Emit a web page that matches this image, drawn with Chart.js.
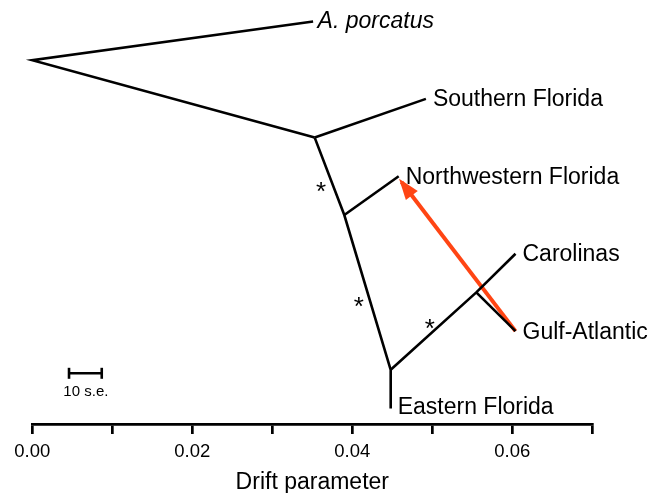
<!DOCTYPE html>
<html>
<head>
<meta charset="utf-8">
<script src="https://cdn.jsdelivr.net/npm/chart.js@4.4.0/dist/chart.umd.min.js"></script>
<style>
html, body { margin: 0; padding: 0; background: #fff; }
#wrap { width: 650px; height: 493px; }
</style>
</head>
<body>
<div id="wrap"><canvas id="treeChart"></canvas></div>
<script>
//tips of the tree: drift parameter (x) and vertical slot (y)
var tipNames = ['A. porcatus', 'Southern Florida', 'Northwestern Florida', 'Carolinas', 'Gulf-Atlantic', 'Eastern Florida']
var tipDrift = [0.0351, 0.0492, 0.0458, 0.0604, 0.0604, 0.0448]
var tipY = [6, 5, 4, 3, 2, 1]
//internal nodes
var nodeNames = ['root', 'n1', 'n2', 'n3', 'n4']
var nodeDrift = [0.0000, 0.0353, 0.0390, 0.0448, 0.0555]
var nodeY = [5.5, 4.5, 3.5, 1.5, 2.5]
//branches, each one a chain of nodes
var branches = [
    ['A. porcatus', 'root', 'n1'],
    ['n1', 'Southern Florida'],
    ['n1', 'n2', 'n3', 'Eastern Florida'],
    ['n2', 'Northwestern Florida'],
    ['n3', 'n4', 'Carolinas'],
    ['n4', 'Gulf-Atlantic']
]
//migration edge, from Gulf-Atlantic to Northwestern Florida
var migDrift = [0.0604, 0.04615]
var migY = [2, 3.926]
//support stars
var starDrift = [0.0361, 0.0408, 0.0497]
var starY = [3.888, 2.402, 2.121]
//scale bar
var barDrift = [0.00459, 0.00868]
var barY = [1.455, 1.455]
var barLabel = '10 s.e.'
//x axis
var tickValues = [0, 0.01, 0.02, 0.03, 0.04, 0.05, 0.06, 0.07]
var tickLabels = ['0.00', '', '0.02', '', '0.04', '', '0.06', '']

function pos(name) {
    var i = tipNames.indexOf(name)
    if (i >= 0) return { x: tipDrift[i], y: tipY[i] }
    i = nodeNames.indexOf(name)
    return { x: nodeDrift[i], y: nodeY[i] }
}

var datasets = branches.map(function (b) {
    return {
        data: b.map(pos),
        showLine: true,
        borderColor: '#000',
        borderWidth: 2.6,
        borderJoinStyle: 'miter',
        pointRadius: 0,
        clip: false
    }
})
datasets.push({
    data: barDrift.map(function (v, i) { return { x: v, y: barY[i] } }),
    showLine: true,
    borderColor: '#000',
    borderWidth: 2.6,
    pointStyle: 'line',
    pointRotation: 90,
    pointRadius: 5.5,
    pointBorderWidth: 2.6,
    pointBorderColor: '#000',
    clip: false
})
datasets.push({
    data: migDrift.map(function (v, i) { return { x: v, y: migY[i] } }),
    showLine: true,
    borderColor: '#ff4514',
    borderWidth: 4,
    pointRadius: 0,
    clip: false
})

var FONT = "'Liberation Sans', Arial, Helvetica, sans-serif"
Chart.defaults.font.family = FONT
Chart.defaults.color = '#000'

//labels, stars, arrow head
var treeText = {
    id: 'treeText',
    afterDatasetsDraw: function (chart) {
        var ctx = chart.ctx
        var xs = chart.scales.x, ys = chart.scales.y
        ctx.save()
        ctx.fillStyle = '#000'
        ctx.textAlign = 'left'
        ctx.textBaseline = 'alphabetic'
        for (var i = 0; i < tipNames.length; i++) {
            var px = xs.getPixelForValue(tipDrift[i])
            var py = ys.getPixelForValue(tipY[i])
            if (i == 0) {
                ctx.font = 'italic 23px ' + FONT
                ctx.fillText(tipNames[i], px + 4.5, py + 7)
            } else {
                ctx.font = '23px ' + FONT
                ctx.fillText(tipNames[i], px + 7, py + (i == 5 ? 5 : 7.5))
            }
        }
        ctx.textAlign = 'center'
        ctx.font = '26px ' + FONT
        for (var j = 0; j < starDrift.length; j++) {
            ctx.fillText('*', xs.getPixelForValue(starDrift[j]), ys.getPixelForValue(starY[j]) + 15)
        }
        ctx.font = '15px ' + FONT
        var bx = (xs.getPixelForValue(barDrift[0]) + xs.getPixelForValue(barDrift[1])) / 2
        ctx.fillText(barLabel, bx + 0.5, ys.getPixelForValue(barY[0]) + 22.4)
        //arrow head
        var x1 = xs.getPixelForValue(migDrift[0]), y1 = ys.getPixelForValue(migY[0])
        var x2 = xs.getPixelForValue(migDrift[1]), y2 = ys.getPixelForValue(migY[1])
        var len = Math.sqrt((x2 - x1) * (x2 - x1) + (y2 - y1) * (y2 - y1))
        var dx = (x2 - x1) / len, dy = (y2 - y1) / len
        var tx = x2 + dx * 4, ty = y2 + dy * 4
        var bxh = tx - dx * 21, byh = ty - dy * 21
        ctx.fillStyle = '#ff4514'
        ctx.beginPath()
        ctx.moveTo(tx, ty)
        ctx.lineTo(bxh - dy * 7.5, byh + dx * 7.5)
        ctx.lineTo(bxh + dy * 7.5, byh - dx * 7.5)
        ctx.closePath()
        ctx.fill()
        ctx.restore()
    }
}

var ctx = document.getElementById('treeChart').getContext('2d')
var treeChart = new Chart(ctx, {
    type: 'scatter',
    data: { datasets: datasets },
    options: {
        responsive: true,
        maintainAspectRatio: false,
        animation: false,
        layout: { padding: { left: 32.3, right: 57.7, top: 2, bottom: 0 } },
        plugins: { legend: { display: false }, tooltip: { enabled: false } },
        scales: {
            x: {
                type: 'linear',
                min: 0,
                max: 0.07,
                afterBuildTicks: function (axis) {
                    axis.ticks = tickValues.map(function (v) { return { value: v } })
                },
                ticks: {
                    autoSkip: false,
                    maxRotation: 0,
                    padding: 6.9,
                    font: { size: 18.5 },
                    callback: function (v, i) { return tickLabels[i] }
                },
                grid: { drawOnChartArea: false, drawTicks: true, tickLength: 10, color: '#000', lineWidth: 2.7 },
                border: { display: true, color: '#000', width: 2.7 },
                title: {
                    display: true,
                    text: 'Drift parameter',
                    font: { size: 23, lineHeight: 1 },
                    padding: { top: 1, bottom: -1 }
                }
            },
            y: {
                type: 'linear',
                display: false,
                min: 0.8,
                max: 6.173
            }
        }
    },
    plugins: [treeText]
})
</script>
</body>
</html>
